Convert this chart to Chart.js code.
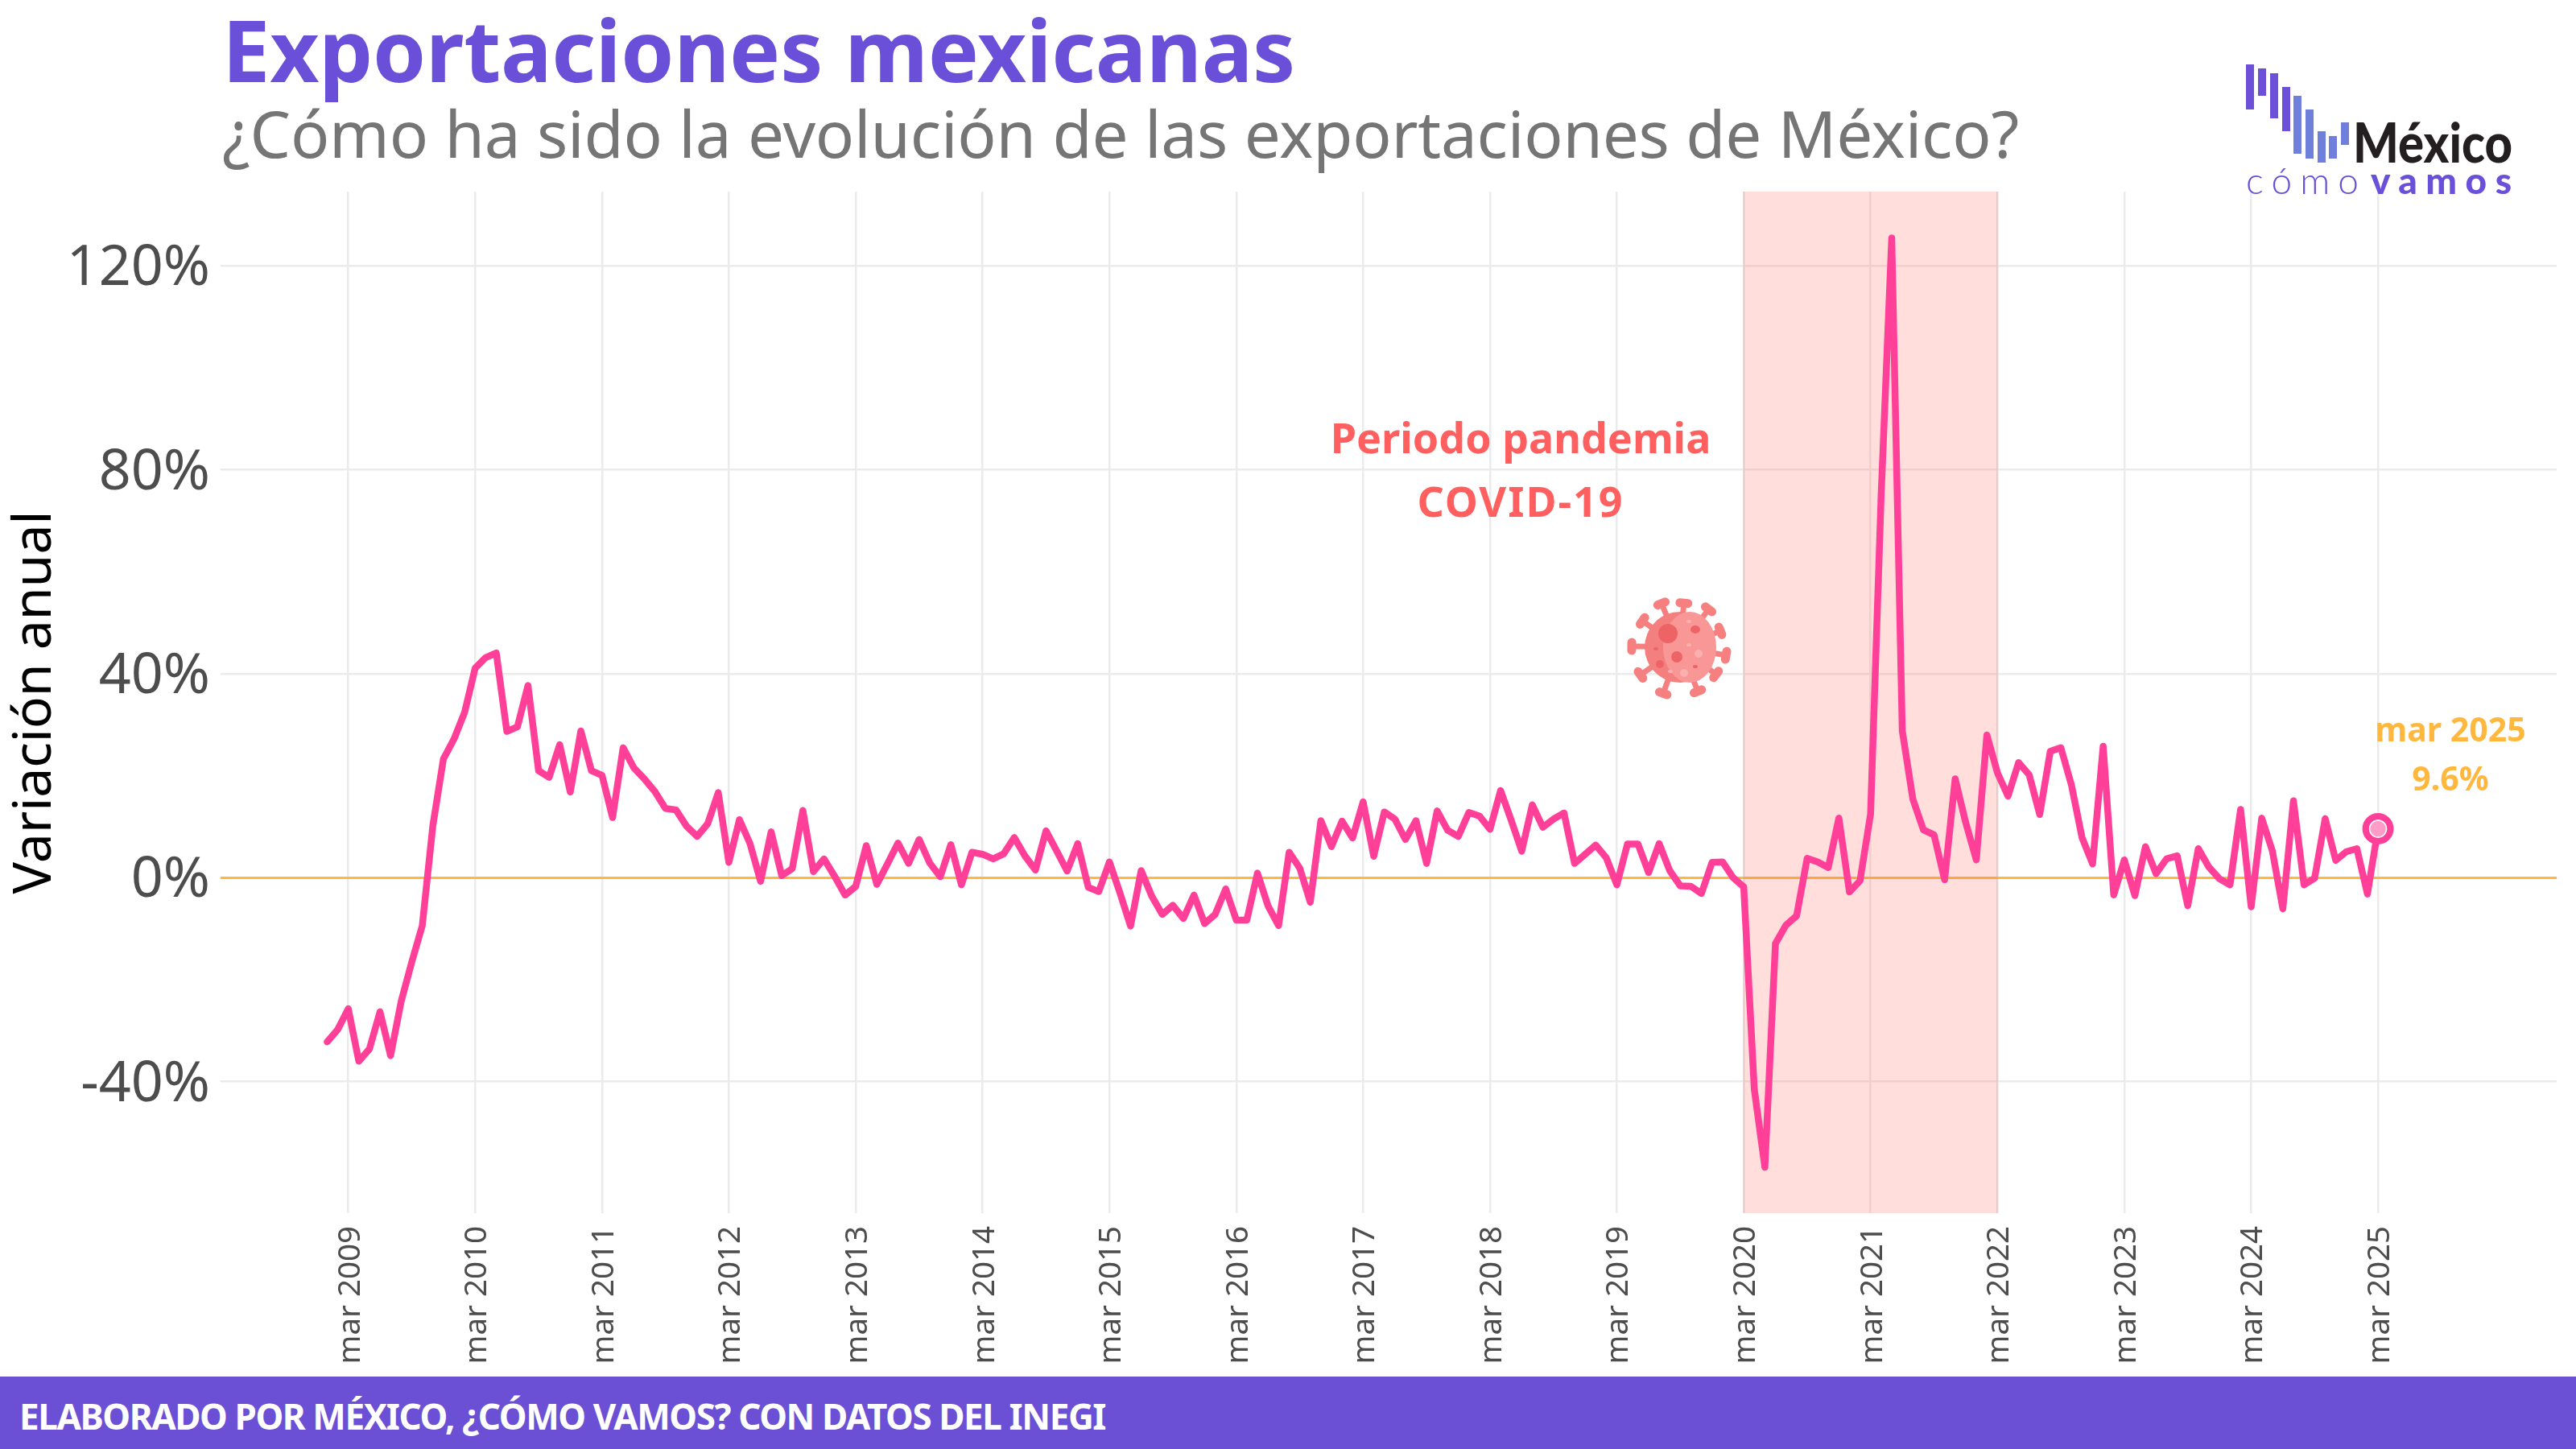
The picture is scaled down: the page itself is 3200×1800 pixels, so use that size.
<!DOCTYPE html>
<html lang="es">
<head>
<meta charset="UTF-8">
<title>Exportaciones mexicanas</title>
<script src="https://cdn.jsdelivr.net/npm/chart.js"></script>
<style>
  html, body { margin: 0; padding: 0; background: #fff; }
  body { width: 3200px; height: 1800px; position: relative; overflow: hidden; font-family: "Noto Sans", sans-serif; }
  #grafica { position: absolute; left: 0; top: 0; }
  .texto { position: absolute; white-space: nowrap; line-height: 1; }
  #titulo { left: 276px; top: 8px; font-size: 106px; font-weight: 700; color: #6A50D8; letter-spacing: -.2px; }
  #subtitulo { left: 276px; top: 125px; font-size: 80px; color: #757575; letter-spacing: -.2px; }
  #pie { position: absolute; left: 0; top: 1710px; width: 3200px; height: 90px; background: #6B4FD4; }
  #pie span { position: absolute; left: 24px; top: 23px; font-size: 44px; font-weight: 700; color: #fff; white-space: nowrap; line-height: 1.2; letter-spacing: -1.4px; }
  #logo, #virus { position: absolute; left: 0; top: 0; }
</style>
</head>
<body>
<canvas id="grafica" width="3200" height="1800"></canvas>
<div class="texto" id="titulo">Exportaciones mexicanas</div>
<div class="texto" id="subtitulo">¿Cómo ha sido la evolución de las exportaciones de México?</div>

<!-- logo -->
<svg id="logo" width="3200" height="300" font-family="Lato, 'Noto Sans', sans-serif">
  <g fill="#6C50D8">
    <rect x="2790" y="80" width="10" height="56"/>
    <rect x="2805" y="85" width="10" height="34"/>
    <rect x="2820" y="91" width="10" height="56"/>
    <rect x="2835" y="108" width="10" height="55"/>
  </g>
  <g fill="#6F80DC">
    <rect x="2849" y="119" width="10" height="72"/>
    <rect x="2864" y="136" width="10" height="61"/>
    <rect x="2879" y="163" width="10" height="39"/>
    <rect x="2893" y="169" width="10" height="28"/>
    <rect x="2908" y="152" width="10" height="28"/>
  </g>
  <text x="2923" y="202" font-size="68" font-weight="900" fill="#231F20" textLength="198" lengthAdjust="spacingAndGlyphs">México</text>
  <text x="2790" y="241" font-size="46" font-weight="300" fill="#6A50D8" textLength="140" lengthAdjust="spacing">cómo</text>
  <text x="2945" y="241" font-size="46" font-weight="900" fill="#6A50D8" textLength="175" lengthAdjust="spacing">vamos</text>
</svg>

<!-- virus -->
<svg id="virus" width="3200" height="1000">
  <defs>
    <g id="punta" fill="none" stroke="#F68080" stroke-linecap="round">
      <path d="M0 0 V24" stroke-width="7"/>
      <path d="M-5 0 H5" stroke-width="11"/>
    </g>
  </defs>
  <g transform="translate(2087 804)">
    <use href="#punta" transform="rotate(-23) translate(0 -59)"/>
    <use href="#punta" transform="rotate(5) translate(0 -55)"/>
    <use href="#punta" transform="rotate(37) translate(0 -59)"/>
    <use href="#punta" transform="rotate(68) translate(0 -54)"/>
    <use href="#punta" transform="rotate(100) translate(0 -58)"/>
    <use href="#punta" transform="rotate(127) translate(0 -56)"/>
    <use href="#punta" transform="rotate(158) translate(0 -59)"/>
    <use href="#punta" transform="rotate(200) translate(0 -61)"/>
    <use href="#punta" transform="rotate(235) translate(0 -60)"/>
    <use href="#punta" transform="rotate(271) translate(0 -60)"/>
    <use href="#punta" transform="rotate(305) translate(0 -57)"/>
    <circle cx="0" cy="0" r="44" fill="#F47F7F"/>
    <ellipse cx="12" cy="0" rx="33" ry="44" fill="#F99797"/>
    <ellipse cx="-15" cy="-17" rx="12" ry="12" fill="#EE6366"/>
    <ellipse cx="19" cy="-22" rx="6" ry="5" fill="#EE6366"/>
    <circle cx="-4" cy="12" r="7" fill="#EE6366"/>
    <circle cx="-25" cy="21" r="5" fill="#EE6366"/>
    <ellipse cx="19" cy="24" rx="3" ry="2" fill="#EE6366"/>
    <ellipse cx="-30" cy="2" rx="3" ry="2" fill="#EE6366"/>
    <circle cx="23" cy="8" r="5" fill="#FBB0B0"/>
    <circle cx="5" cy="32" r="5" fill="#FBB0B0"/>
    <ellipse cx="11" cy="-32" rx="3" ry="2" fill="#FBB0B0"/>
    <ellipse cx="11" cy="-3" rx="3" ry="2" fill="#FBB0B0"/>
    <ellipse cx="-12" cy="30" rx="3" ry="2" fill="#FBB0B0"/>
  </g>
</svg>

<div id="pie"><span>ELABORADO POR MÉXICO, ¿CÓMO VAMOS? CON DATOS DEL INEGI</span></div>

<script>
// variación anual mensual, de enero 2009 a marzo 2025
const variacion = [
  -32.2, -29.8, -25.7, -36.0, -33.6, -26.3, -34.9, -24.3, -16.6, -9.4, 10.2, 23.3,
  27.2, 32.4, 41.1, 43.2, 44.1, 28.7, 29.6, 37.7, 21.0, 19.7, 26.1, 16.8,
  28.8, 21.0, 20.1, 11.8, 25.5, 21.6, 19.4, 16.9, 13.6, 13.3, 10.1, 8.1,
  10.6, 16.7, 3.0, 11.4, 6.7, -0.7, 9.0, 0.4, 1.8, 13.2, 1.2, 3.7,
  0.3, -3.4, -1.7, 6.3, -1.3, 2.7, 6.8, 2.8, 7.5, 2.9, 0.2, 6.5,
  -1.4, 5.0, 4.6, 3.7, 4.7, 7.9, 4.3, 1.5, 9.2, 5.3, 1.3, 6.7,
  -1.9, -2.7, 3.1, -3.0, -9.5, 1.4, -3.6, -7.2, -5.4, -8.0, -3.4, -9.0,
  -7.2, -2.2, -8.3, -8.3, 0.9, -5.5, -9.4, 5.0, 1.9, -4.8, 11.2, 6.1,
  11.1, 7.8, 14.9, 4.2, 12.9, 11.5, 7.5, 11.2, 2.8, 13.1, 9.3, 8.1,
  12.8, 12.1, 9.5, 17.1, 11.3, 5.2, 14.3, 9.9, 11.5, 12.7, 2.8, 4.6,
  6.4, 3.9, -1.4, 6.6, 6.6, 1.0, 6.7, 1.4, -1.6, -1.7, -3.1, 3.0,
  3.1, 0.0, -1.8, -41.5, -56.8, -12.9, -9.3, -7.5, 3.8, 3.1, 2.0, 11.7,
  -2.8, -0.6, 12.5, 75.0, 125.5, 28.8, 15.4, 9.4, 8.4, -0.4, 19.4, 10.8,
  3.5, 28.0, 20.6, 16.0, 22.6, 20.2, 12.4, 24.8, 25.5, 18.2, 7.9, 2.7,
  25.8, -3.4, 3.5, -3.5, 6.1, 0.8, 3.7, 4.3, -5.5, 5.7, 2.1, -0.2,
  -1.4, 13.4, -5.7, 11.7, 5.3, -6.1, 15.1, -1.4, -0.1, 11.6, 3.4, 5.1,
  5.7, -3.2, 9.6
];
const meses = variacion.map((v, i) => i); // meses desde enero 2009

const mesesMarzo = [2, 14, 26, 38, 50, 62, 74, 86, 98, 110, 122, 134, 146, 158, 170, 182, 194];
const etiquetasX = ['mar 2009', 'mar 2010', 'mar 2011', 'mar 2012', 'mar 2013', 'mar 2014', 'mar 2015', 'mar 2016', 'mar 2017',
  'mar 2018', 'mar 2019', 'mar 2020', 'mar 2021', 'mar 2022', 'mar 2023', 'mar 2024', 'mar 2025'];
const ticksY = [-40, 0, 40, 80, 120];
const pandemia = [134, 158];

const ROSA = '#FF3F98';
const NARANJA = '#FFB83D';
const ROJO = '#FF5F5F';
const FUENTE = '"Noto Sans", sans-serif';

// sombreado de la pandemia y rótulos
const anotaciones = {
  id: 'anotaciones',
  beforeDatasetsDraw(chart) {
    const { ctx, chartArea, scales } = chart;
    const x0 = scales.x.getPixelForValue(pandemia[0]);
    const x1 = scales.x.getPixelForValue(pandemia[1]);
    ctx.save();
    ctx.fillStyle = 'rgba(255, 90, 80, .2)';
    ctx.fillRect(x0, chartArea.top, x1 - x0, chartArea.bottom - chartArea.top);
    ctx.fillStyle = 'rgba(200, 170, 170, .25)';
    ctx.fillRect(x0 - 1, chartArea.top, 2, chartArea.bottom - chartArea.top);
    ctx.fillRect(x1 - 1, chartArea.top, 2, chartArea.bottom - chartArea.top);
    ctx.restore();
  },
  afterDatasetsDraw(chart) {
    const { ctx } = chart;
    ctx.save();
    ctx.textAlign = 'center';
    ctx.textBaseline = 'middle';
    ctx.fillStyle = ROJO;
    ctx.font = '700 52px ' + FUENTE;
    ctx.fillText('Periodo pandemia', 1889, 548);
    ctx.letterSpacing = '2px';
    ctx.fillText('COVID-19', 1889, 627);
    ctx.letterSpacing = '0px';
    ctx.fillStyle = NARANJA;
    ctx.font = '700 41px ' + FUENTE;
    ctx.fillText('mar 2025', 3044, 909);
    ctx.fillText('9.6%', 3044, 970);
    ctx.restore();
  }
};

new Chart(document.getElementById('grafica'), {
  type: 'line',
  data: {
    datasets: [
      {
        order: 3,
        data: meses.map((m, i) => ({ x: m, y: variacion[i] })),
        borderColor: ROSA,
        borderWidth: 8.5,
        borderCapStyle: 'round',
        borderJoinStyle: 'round',
        pointRadius: 0,
        tension: 0
      },
      {
        order: 1,
        data: [{ x: meses[meses.length - 1], y: variacion[variacion.length - 1] }],
        showLine: false,
        pointRadius: 10.5,
        pointBackgroundColor: '#FF9CC8',
        pointBorderColor: '#FFFFFF',
        pointBorderWidth: 1.5
      },
      {
        order: 2,
        data: [{ x: meses[meses.length - 1], y: variacion[variacion.length - 1] }],
        showLine: false,
        pointRadius: 15.2,
        pointBackgroundColor: '#FFFFFF',
        pointBorderColor: ROSA,
        pointBorderWidth: 8.5
      }
    ]
  },
  options: {
    responsive: false,
    animation: false,
    devicePixelRatio: 1,
    layout: { padding: { top: 238, right: 24, bottom: 53, left: 0 } },
    plugins: { legend: { display: false }, tooltip: { enabled: false } },
    scales: {
      x: {
        type: 'linear',
        min: -10.08,
        max: 210.9,
        afterBuildTicks: axis => { axis.ticks = mesesMarzo.map(v => ({ value: v })); },
        afterFit: axis => { axis.height = 240; },
        grid: { color: '#EBEBEB', lineWidth: 2.5, drawTicks: false },
        border: { display: false },
        ticks: {
          autoSkip: false,
          minRotation: 90,
          maxRotation: 90,
          padding: 16,
          labelOffset: 3,
          color: '#4D4D4D',
          font: { family: FUENTE, size: 38.5 },
          callback: v => etiquetasX[mesesMarzo.indexOf(v)]
        }
      },
      y: {
        min: -65.8,
        max: 134.6,
        afterBuildTicks: axis => { axis.ticks = ticksY.map(v => ({ value: v })); },
        afterFit: axis => { axis.width = 274; },
        grid: {
          color: c => c.tick.value === 0 ? NARANJA : '#EBEBEB',
          lineWidth: c => c.tick.value === 0 ? 3 : 2.5,
          drawTicks: false
        },
        border: { display: false },
        title: {
          display: true,
          text: 'Variación anual',
          color: '#000000',
          font: { family: FUENTE, size: 66 },
          padding: { top: 5, bottom: 0 }
        },
        ticks: {
          padding: 13,
          labelOffset: 4,
          color: '#4D4D4D',
          font: { family: FUENTE, size: 70 },
          callback: v => v + '%'
        }
      }
    }
  },
  plugins: [anotaciones]
});
</script>
</body>
</html>
